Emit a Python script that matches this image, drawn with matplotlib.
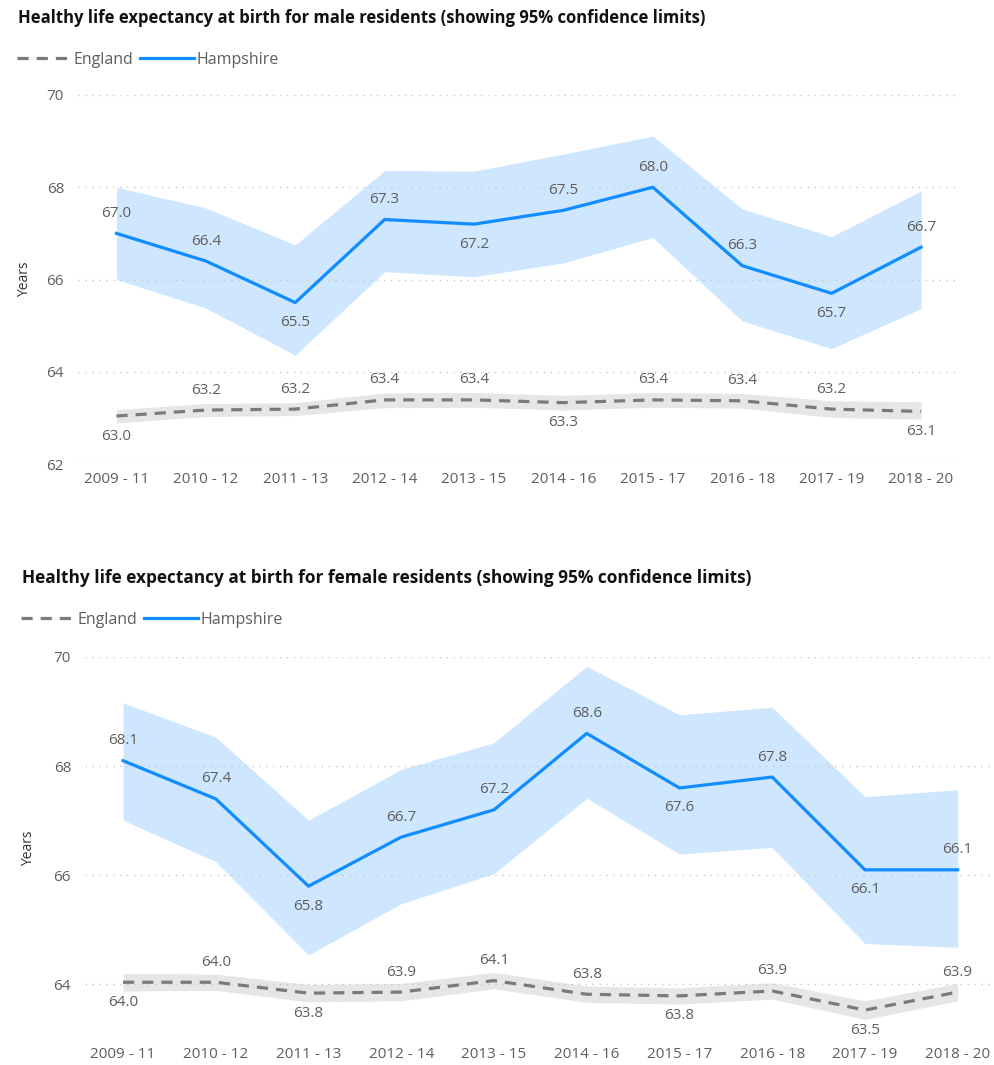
import matplotlib
matplotlib.use("Agg")
import matplotlib.pyplot as plt
from matplotlib.lines import Line2D

plt.rcParams['font.family'] = ['Open Sans', 'DejaVu Sans']

periods = ['2009 - 11', '2010 - 12', '2011 - 13', '2012 - 14', '2013 - 15',
           '2014 - 16', '2015 - 17', '2016 - 18', '2017 - 19', '2018 - 20']

# male healthy life expectancy, years
male_hants = [67.0, 66.4, 65.5, 67.3, 67.2, 67.5, 68.0, 66.3, 65.7, 66.7]
male_hants_lo = [66.0, 65.38, 64.36, 66.17, 66.06, 66.36, 66.91, 65.1, 64.5, 65.37]
male_hants_hi = [68.0, 67.55, 66.75, 68.36, 68.35, 68.72, 69.11, 67.53, 66.93, 67.92]
male_eng = [63.04, 63.17, 63.19, 63.39, 63.39, 63.33, 63.39, 63.37, 63.19, 63.14]
male_eng_lo = [62.89, 63.03, 63.05, 63.22, 63.23, 63.17, 63.23, 63.21, 63.01, 62.97]
male_eng_hi = [63.18, 63.31, 63.33, 63.54, 63.55, 63.49, 63.55, 63.53, 63.37, 63.35]

# female healthy life expectancy, years
female_hants = [68.1, 67.4, 65.8, 66.7, 67.2, 68.6, 67.6, 67.8, 66.1, 66.1]
female_hants_lo = [67.01, 66.25, 64.54, 65.48, 66.03, 67.41, 66.39, 66.51, 64.75, 64.68]
female_hants_hi = [69.16, 68.53, 67.01, 67.94, 68.43, 69.83, 68.94, 69.08, 67.44, 67.57]
female_eng = [64.04, 64.04, 63.84, 63.86, 64.07, 63.82, 63.79, 63.88, 63.53, 63.86]
female_eng_lo = [63.88, 63.89, 63.68, 63.7, 63.92, 63.67, 63.64, 63.73, 63.36, 63.7]
female_eng_hi = [64.2, 64.19, 64.0, 64.02, 64.22, 63.97, 63.94, 64.03, 63.7, 64.02]

BLUE = '#118DFF'
BLUE_BAND = '#CFE6FF'
GREY = '#7A7A7A'
GREY_BAND = '#E6E6E6'
TXT = '#605E5C'


def draw_panel(ax, title, title_size, hants, lo, hi, eng, eng_lo, eng_hi,
               hants_side, eng_side, ylim, yticks, xlim, title_xy, legend_xy, ylab_x):
    x = list(range(len(periods)))
    ax.fill_between(x, lo, hi, color=BLUE_BAND, lw=0, zorder=1)
    ax.fill_between(x, eng_lo, eng_hi, color=GREY_BAND, lw=0, zorder=1)
    ax.plot(x, eng, color=GREY, lw=2.3, ls=(0, (3.5, 2.5)), zorder=3)
    ax.plot(x, hants, color=BLUE, lw=2.3, zorder=3)

    for xs, ys, sides in ((x, hants, hants_side), (x, eng, eng_side)):
        for xi, yi, s in zip(xs, ys, sides):
            off = 20 if s > 0 else -20
            ax.annotate(f'{yi:.1f}', (xi, yi), xytext=(0, off), textcoords='offset pixels',
                        ha='center', va='center', fontsize=11, color=TXT, zorder=4)

    ax.set_xlim(*xlim)
    ax.set_ylim(*ylim)
    ax.set_yticks(yticks)
    ax.set_xticks(x)
    ax.set_xticklabels(periods)
    ax.tick_params(length=0, labelsize=11, labelcolor=TXT)
    ax.tick_params(axis='y', pad=10)
    ax.tick_params(axis='x', pad=6)
    ax.grid(axis='y', color='#C8C8C8', ls=(0, (1, 4)), lw=1)
    for sp in ax.spines.values():
        sp.set_visible(False)

    fig = ax.figure
    fig.text(title_xy[0], title_xy[1], title, fontsize=title_size, fontweight='bold',
             color='#111111', ha='left', va='center')
    fig.text(ylab_x, (ax.get_position().y0 + ax.get_position().y1) / 2, 'Years',
             rotation=90, fontsize=10, color='#333333', ha='center', va='center')
    handles = [Line2D([], [], color=GREY, lw=2.3, ls=(0, (3.5, 2.5))),
               Line2D([], [], color=BLUE, lw=2.3)]
    fig.legend(handles, ['England', 'Hampshire'], loc='center left',
               bbox_to_anchor=legend_xy, frameon=False, ncol=2, fontsize=11.5,
               labelcolor=TXT, handlelength=3.4, handletextpad=0.15,
               columnspacing=0.4, borderaxespad=0, borderpad=0)


W, H = 994, 1065
fig = plt.figure(figsize=(W / 100, H / 100), dpi=100)

ax1 = fig.add_axes([78 / W, 1 - 464 / H, (955 - 78) / W, (464 - 95) / H])
draw_panel(ax1, 'Healthy life expectancy at birth for male residents (showing 95% confidence limits)', 12,
           male_hants, male_hants_lo, male_hants_hi, male_eng, male_eng_lo, male_eng_hi,
           [1, 1, -1, 1, -1, 1, 1, 1, -1, 1],
           [-1, 1, 1, 1, 1, -1, 1, 1, 1, -1],
           (62, 70), [62, 64, 66, 68, 70], (-0.43, 9.38),
           (18 / W, 1 - 18 / H), (17 / W, 1 - 60 / H), 25 / W)

ax2 = fig.add_axes([85 / W, 1 - 1039 / H, (992 - 85) / W, (1039 - 657) / H])
draw_panel(ax2, 'Healthy life expectancy at birth for female residents (showing 95% confidence limits)', 12.4,
           female_hants, female_hants_lo, female_hants_hi, female_eng, female_eng_lo, female_eng_hi,
           [1, 1, -1, 1, 1, 1, -1, 1, -1, 1],
           [-1, 1, -1, 1, 1, 1, -1, 1, -1, 1],
           (63, 70), [64, 66, 68, 70], (-0.41, 9.37),
           (22 / W, 1 - 578 / H), (21 / W, 1 - 620 / H), 29 / W)

fig.savefig('out.png', dpi=100)
